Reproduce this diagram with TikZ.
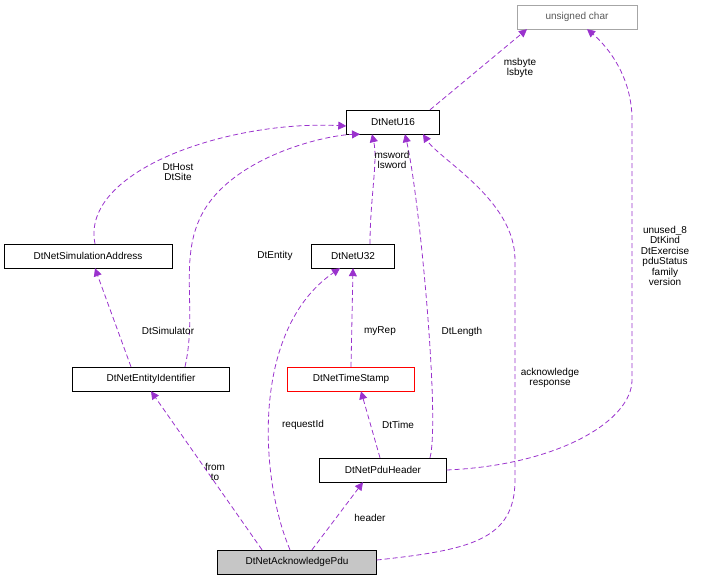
\documentclass[tikz,border=0pt]{standalone}
\usepackage{fontspec}
\setmainfont{Liberation Sans}
\usetikzlibrary{positioning, calc, arrows.meta}
\definecolor{relcol}{RGB}{154,50,205}
\tikzset{
  cls/.style={draw=black, fill=white, inner sep=0pt, minimum height=24pt, font=\fontsize{10}{11}\selectfont},
  rel/.style={draw=relcol, dash pattern=on 5pt off 3pt, line width=0.8pt, -{Triangle[fill=relcol, length=8pt, width=8pt]}},
  lbl/.style={align=center, font=\fontsize{10}{10.5}\selectfont, inner sep=0pt}
}
\begin{document}
\begin{tikzpicture}[x=1pt, y=-1pt]
    \useasboundingbox (0,0) rectangle (704,584);
    % classes
    \node[cls, draw=gray!70, text=gray!70!black, minimum width=120pt] (uchar) at (577, 17) {unsigned char};
    \node[cls, minimum width=93pt] (U16) at (393, 122) {DtNetU16};
    \node[cls, minimum width=168pt] (SimAddr) at (88, 256) {DtNetSimulationAddress};
    \node[cls, minimum width=83pt] (U32) at (353, 256) {DtNetU32};
    \node[cls, minimum width=157pt] (EntId) at (151, 379) {DtNetEntityIdentifier};
    \node[cls, draw=red, minimum width=127pt] (Stamp) at (351, 379) {DtNetTimeStamp};
    \node[cls, minimum width=127pt] (Header) at (383, 470) {DtNetPduHeader};
    \node[cls, fill=gray!45, minimum width=159pt] (Ack) at (297, 562) {DtNetAcknowledgePdu};
    % relations
    \draw[rel] ($(U16.north)+(37,0)$) -- ($(uchar.south)+(-50,0)$);
    \draw[rel] ($(SimAddr.north)+(7,0)$) .. controls (80,170) and (230,120) .. ($(U16.west)+(0,4)$);
    \draw[rel] ($(EntId.north)+(34,0)$) .. controls (200,300) and (170,240) .. (220,190) .. controls (260,150) and (330,135) .. ($(U16.south)+(-33,0)$);
    \draw[rel] ($(U32.north)+(17,0)$) .. controls (370,200) and (378,160) .. ($(U16.south)+(-21,0)$);
    \draw[rel] ($(Header.north)+(47,0)$) .. controls (440,420) and (420,200) .. ($(U16.south)+(12,0)$);
    \draw[rel] ($(Ack.east)+(0,-2)$) .. controls (470,550) and (515,540) .. (515,480) -- (515,260) .. controls (515,200) and (440,160) .. ($(U16.south)+(30,0)$);
    \draw[rel] (Header.east) .. controls (560,465) and (632,420) .. (632,380) -- (632,120) .. controls (632,70) and (600,40) .. ($(uchar.south)+(10,0)$);
    \draw[rel] ($(EntId.north)+(-20,0)$) -- ($(SimAddr.south)+(7,0)$);
    \draw[rel] (Stamp.north) -- (U32.south);
    \draw[rel] ($(Header.north)+(-3,0)$) -- ($(Stamp.south)+(10,0)$);
    \draw[rel] ($(Ack.north)+(-35,0)$) -- ($(EntId.south)+(0,0)$);
    \draw[rel] ($(Ack.north)+(-7,0)$) .. controls (260,480) and (250,330) .. ($(U32.south)+(-13,0)$);
    \draw[rel] ($(Ack.north)+(15,0)$) -- ($(Header.south)+(-20,0)$);
    % labels
    \node[lbl] (lMsbyte) at (520, 68) {msbyte\\lsbyte};
    \node[lbl] (lHost) at (178, 172) {DtHost\\DtSite};
    \node[lbl] (lEntity) at (275, 256) {DtEntity};
    \node[lbl] (lMsword) at (392, 160) {msword\\lsword};
    \node[lbl] (lLength) at (462, 332) {DtLength};
    \node[lbl] (lAck) at (550, 378) {acknowledge\\response};
    \node[lbl] (lUnused) at (665, 256) {unused\_8\\DtKind\\DtExercise\\pduStatus\\family\\version};
    \node[lbl] (lSim) at (168, 331) {DtSimulator};
    \node[lbl] (lRep) at (380, 331) {myRep};
    \node[lbl] (lTime) at (398, 425) {DtTime};
    \node[lbl] (lFrom) at (215, 472) {from\\to};
    \node[lbl] (lReq) at (303, 425) {requestId};
    \node[lbl] (lHeader) at (370, 518) {header};
\end{tikzpicture}
\end{document}
